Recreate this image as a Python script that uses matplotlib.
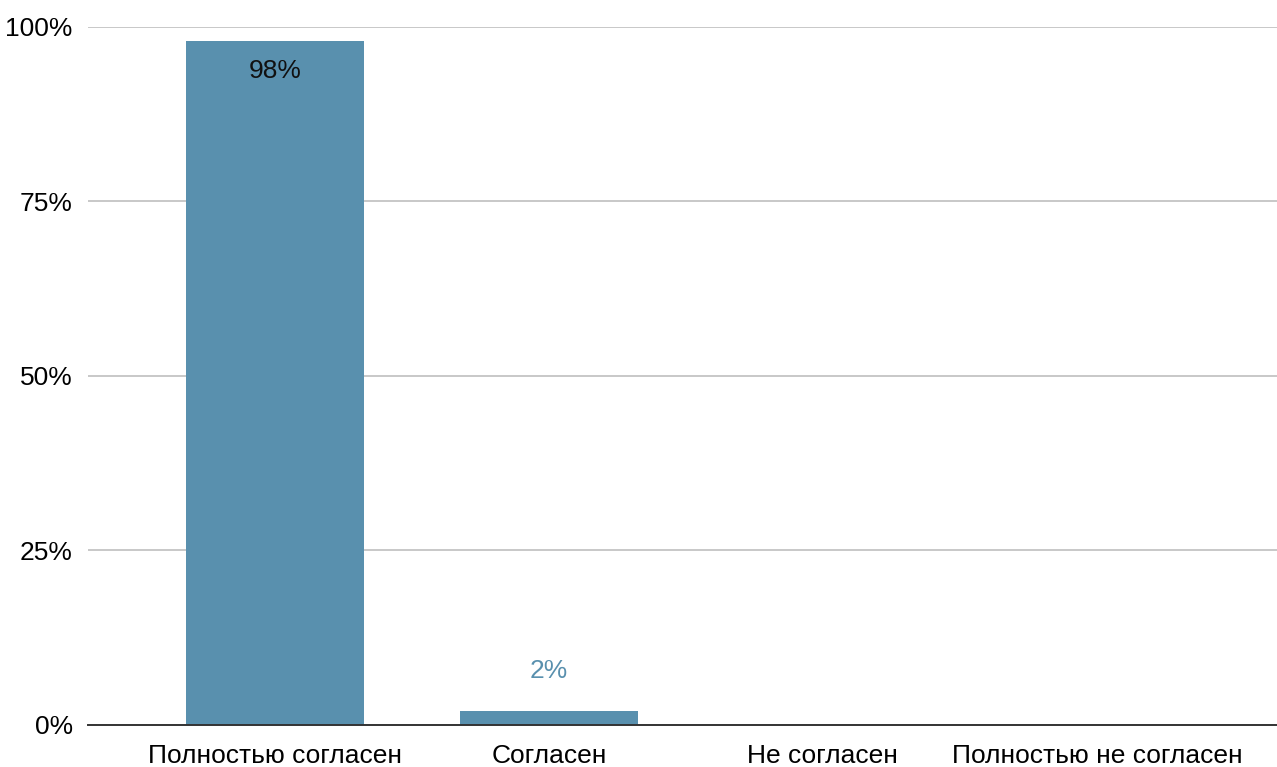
import matplotlib.pyplot as plt
from matplotlib.ticker import FuncFormatter

categories = ['Полностью согласен', 'Согласен', 'Не согласен', 'Полностью не согласен']
shares = [98, 2, 0, 0]
yticks = [0, 25, 50, 75, 100]

bar_color = '#5990ae'

plt.rcParams['font.family'] = ['Liberation Sans', 'DejaVu Sans']

fig = plt.figure(figsize=(12.77, 7.67), dpi=100)
ax = fig.add_axes([0.0689, 0.0548, 0.9311, 0.91])

x = list(range(len(categories)))
ax.bar(x, shares, width=0.65, color=bar_color, zorder=3)

# labels: inside the tall bar, above the short one
for xi, v in zip(x, shares):
    if v == 0:
        continue
    if v > 50:
        ax.annotate(f'{v}%', (xi, v), xytext=(0, -21.5), textcoords='offset points',
                    ha='center', va='center', fontsize=19, color='#111111', zorder=4)
    else:
        ax.annotate(f'{v}%', (xi, v), xytext=(0, 29), textcoords='offset points',
                    ha='center', va='center', fontsize=19, color=bar_color, zorder=4)

ax.set_xlim(-0.682, 3.657)
ax.set_ylim(0, 100)
ax.set_xticks(x)
ax.set_xticklabels(categories, fontsize=19)
ax.set_yticks(yticks)
ax.yaxis.set_major_formatter(FuncFormatter(lambda v, p: f'{v:.0f}%'))
ax.tick_params(axis='y', labelsize=19, length=0, pad=11)
ax.tick_params(axis='x', length=0, pad=14)
ax.grid(axis='y', color='#c8c8c8', linewidth=1.4, zorder=0)
for s in ['top', 'right', 'left']:
    ax.spines[s].set_visible(False)
ax.spines['bottom'].set_color('#333333')
ax.spines['bottom'].set_linewidth(1.4)
ax.spines['bottom'].set_zorder(5)

fig.savefig('out.png', dpi=100)
